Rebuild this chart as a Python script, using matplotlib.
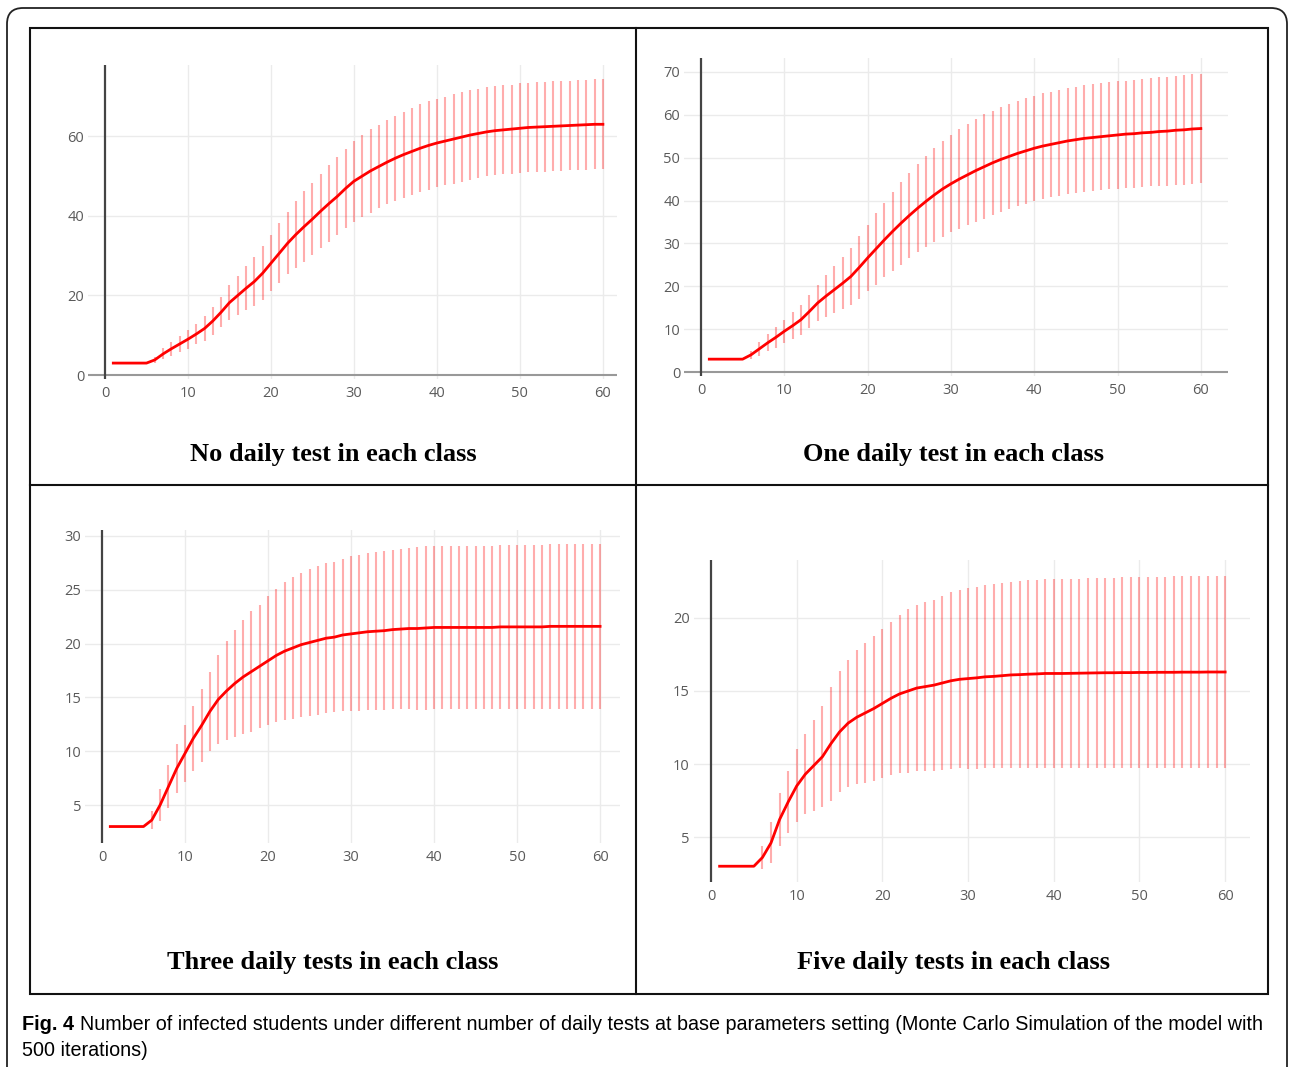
import numpy as np
import matplotlib.pyplot as plt
from matplotlib.patches import FancyBboxPatch, Rectangle
from matplotlib.lines import Line2D

days = list(range(1, 61))

no_test_mean = [3, 3, 3, 3, 3, 3.8, 5.3, 6.6, 7.8, 9.0,
                10.3, 11.7, 13.6, 15.8, 18.2, 20.0, 21.8, 23.5, 25.6, 28.1,
                30.6, 33.1, 35.3, 37.3, 39.2, 41.2, 43.1, 44.9, 46.9, 48.7,
                50.0, 51.3, 52.4, 53.5, 54.5, 55.4, 56.2, 57.0, 57.7, 58.3,
                58.8, 59.3, 59.8, 60.3, 60.7, 61.1, 61.4, 61.6, 61.8, 62.0,
                62.2, 62.3, 62.4, 62.5, 62.6, 62.7, 62.8, 62.9, 63.0, 63.0]
no_test_err = [0, 0, 0, 0, 0, 0.8, 1.4, 1.8, 2.1, 2.4,
               2.6, 3.2, 3.6, 3.7, 4.5, 5.0, 5.5, 6.1, 6.7, 7.0,
               7.5, 7.8, 8.5, 8.9, 9.1, 9.4, 9.7, 9.8, 10.0, 10.2,
               10.2, 10.5, 10.5, 10.6, 10.7, 10.8, 11.0, 11.1, 11.1, 11.1,
               11.1, 11.2, 11.2, 11.2, 11.2, 11.2, 11.2, 11.2, 11.2, 11.3,
               11.3, 11.3, 11.3, 11.3, 11.3, 11.3, 11.3, 11.3, 11.3, 11.3]

one_test_mean = [3, 3, 3, 3, 3, 4.0, 5.4, 6.8, 8.1, 9.5,
                 10.8, 12.2, 14.1, 16.1, 17.7, 19.2, 20.7, 22.3, 24.4, 26.6,
                 28.7, 30.8, 32.8, 34.7, 36.5, 38.2, 39.8, 41.3, 42.7, 43.9,
                 45.0, 46.0, 47.0, 47.9, 48.8, 49.6, 50.3, 51.0, 51.6, 52.2,
                 52.7, 53.1, 53.5, 53.9, 54.2, 54.5, 54.7, 54.9, 55.1, 55.3,
                 55.5, 55.6, 55.8, 55.9, 56.1, 56.2, 56.4, 56.5, 56.7, 56.8]
one_test_err = [0, 0, 0, 0, 0, 0.9, 1.7, 2.0, 2.4, 2.7,
                3.1, 3.5, 3.9, 4.3, 4.9, 5.5, 6.1, 6.7, 7.3, 7.8,
                8.3, 8.7, 9.2, 9.7, 10.0, 10.3, 10.6, 10.9, 11.1, 11.3,
                11.6, 11.8, 12.0, 12.2, 12.2, 12.2, 12.3, 12.3, 12.3, 12.2,
                12.3, 12.3, 12.4, 12.4, 12.4, 12.4, 12.4, 12.5, 12.5, 12.5,
                12.5, 12.6, 12.6, 12.6, 12.7, 12.7, 12.7, 12.8, 12.8, 12.8]

three_test_mean = [3, 3, 3, 3, 3, 3.6, 5.0, 6.7, 8.4, 9.8,
                   11.2, 12.4, 13.7, 14.8, 15.6, 16.3, 16.9, 17.4, 17.9, 18.4,
                   18.9, 19.3, 19.6, 19.9, 20.1, 20.3, 20.5, 20.6, 20.8, 20.9,
                   21.0, 21.1, 21.15, 21.2, 21.3, 21.35, 21.4, 21.4, 21.45, 21.5,
                   21.5, 21.5, 21.5, 21.5, 21.5, 21.5, 21.5, 21.55, 21.55, 21.55,
                   21.55, 21.55, 21.55, 21.6, 21.6, 21.6, 21.6, 21.6, 21.6, 21.6]
three_test_err = [0, 0, 0, 0, 0, 0.8, 1.5, 2.0, 2.3, 2.65,
                  3.0, 3.4, 3.7, 4.1, 4.6, 5.0, 5.3, 5.6, 5.7, 6.0,
                  6.2, 6.4, 6.6, 6.7, 6.8, 6.9, 6.95, 7.0, 7.1, 7.2,
                  7.25, 7.3, 7.35, 7.4, 7.4, 7.45, 7.5, 7.55, 7.6, 7.6,
                  7.6, 7.6, 7.6, 7.6, 7.6, 7.6, 7.6, 7.6, 7.65, 7.65,
                  7.65, 7.65, 7.65, 7.65, 7.65, 7.65, 7.65, 7.65, 7.65, 7.65]

five_test_mean = [3, 3, 3, 3, 3, 3.6, 4.6, 6.2, 7.4, 8.5,
                  9.3, 9.9, 10.5, 11.4, 12.2, 12.8, 13.2, 13.5, 13.8, 14.15,
                  14.5, 14.8, 15.0, 15.2, 15.3, 15.4, 15.55, 15.7, 15.8, 15.85,
                  15.9, 15.97, 16.0, 16.05, 16.1, 16.12, 16.15, 16.17, 16.2, 16.2,
                  16.2, 16.21, 16.22, 16.23, 16.24, 16.25, 16.25, 16.26, 16.26, 16.27,
                  16.27, 16.28, 16.28, 16.28, 16.29, 16.29, 16.29, 16.3, 16.3, 16.3]
five_test_err = [0, 0, 0, 0, 0, 0.8, 1.4, 1.8, 2.1, 2.5,
                 2.75, 3.1, 3.45, 3.9, 4.15, 4.35, 4.6, 4.8, 4.95, 5.1,
                 5.25, 5.4, 5.6, 5.7, 5.8, 5.85, 5.95, 6.05, 6.1, 6.2,
                 6.23, 6.27, 6.3, 6.33, 6.37, 6.4, 6.42, 6.43, 6.44, 6.45,
                 6.46, 6.47, 6.48, 6.49, 6.5, 6.5, 6.51, 6.52, 6.53, 6.55,
                 6.55, 6.56, 6.56, 6.57, 6.57, 6.58, 6.58, 6.59, 6.6, 6.6]

titles = ['No daily test in each class', 'One daily test in each class',
          'Three daily tests in each class', 'Five daily tests in each class']
caption_bold = 'Fig. 4'
caption_1 = ('Number of infected students under different number of daily tests at base '
             'parameters setting (Monte Carlo Simulation of the model with')
caption_2 = '500 iterations)'

W, H = 1289, 1067
fig = plt.figure(figsize=(W / 100, H / 100), dpi=100)


def px_axes(l, t, r, b):
    return fig.add_axes([l / W, 1 - b / H, (r - l) / W, (b - t) / H])


# (mean, err, pixel box, xlim, ylim, yticks, zeroline, title centre)
panels = [
    (no_test_mean, no_test_err, (88.4, 65.4, 617, 379), (-2, 61.7), (-1, 77.8),
     [0, 20, 40, 60], True, (333, 455)),
    (one_test_mean, one_test_err, (684.3, 57.8, 1228.3, 376.3), (-2, 63.3), (-1, 73.3),
     [0, 10, 20, 30, 40, 50, 60, 70], True, (953, 455)),
    (three_test_mean, three_test_err, (85.4, 529.5, 620, 843), (-2, 62.4), (1.47, 30.6),
     [5, 10, 15, 20, 25, 30], False, (333, 963)),
    (five_test_mean, five_test_err, (693.9, 560, 1250, 882), (-2, 62.9), (1.92, 23.97),
     [5, 10, 15, 20], False, (953, 963)),
]

for (mean, err, box, xl, yl, yt, zero, tc), title in zip(panels, titles):
    ax = px_axes(*box)
    ax.set_xlim(*xl)
    ax.set_ylim(*yl)
    for s in ax.spines.values():
        s.set_visible(False)
    ax.set_xticks([0, 10, 20, 30, 40, 50, 60])
    ax.set_yticks(yt)
    ax.tick_params(length=0, labelsize=10.5, labelcolor='#5a5a5a', pad=5)
    ax.tick_params(axis='y', pad=3)
    for lab in ax.get_xticklabels() + ax.get_yticklabels():
        lab.set_family('Open Sans')
    for v in [10, 20, 30, 40, 50, 60]:
        ax.axvline(v, color='#ebebeb', lw=1, zorder=0)
    for v in yt:
        if v != 0:
            ax.axhline(v, color='#ebebeb', lw=1, zorder=0)
    if zero:
        ax.axhline(0, color='#999', lw=1.5, zorder=1)
    ax.axvline(0, color='#444', lw=1.6, zorder=1)

    ax.errorbar(days, mean, yerr=err, fmt='none', ecolor='#ff0000', alpha=0.32,
                 elinewidth=1.5, capsize=0, zorder=2)
    ax.plot(days, mean, color='#ff0000', lw=2.0, zorder=3)

    fig.text(tc[0] / W, 1 - tc[1] / H, title, ha='center', va='center',
             family='Liberation Serif', weight='bold', fontsize=19)

# outer frame with rounded corners, inner grid of panels
fig.add_artist(FancyBboxPatch((0.07, -0.3), 12.8, 10.89, boxstyle='round,pad=0,rounding_size=0.16',
                              transform=fig.dpi_scale_trans, fill=False, ec='#222', lw=1.3))
fig.add_artist(Rectangle((0.30, 0.73), 12.38, 9.66, transform=fig.dpi_scale_trans,
                         fill=False, ec='#111', lw=1.5))
fig.add_artist(Line2D([6.36, 6.36], [0.73, 10.39], transform=fig.dpi_scale_trans,
                      color='#111', lw=1.5))
fig.add_artist(Line2D([0.30, 12.68], [5.82, 5.82], transform=fig.dpi_scale_trans,
                      color='#111', lw=1.5))

fig.text(22 / W, 1 - 1025 / H, caption_bold, ha='left', va='center',
         family='Liberation Sans', weight='bold', fontsize=14.3)
fig.text(80 / W, 1 - 1025 / H, caption_1, ha='left', va='center',
         family='Liberation Sans', fontsize=14.2)
fig.text(22 / W, 1 - 1050 / H, caption_2, ha='left', va='center',
         family='Liberation Sans', fontsize=14.2)

plt.savefig('out.png', dpi=100)
